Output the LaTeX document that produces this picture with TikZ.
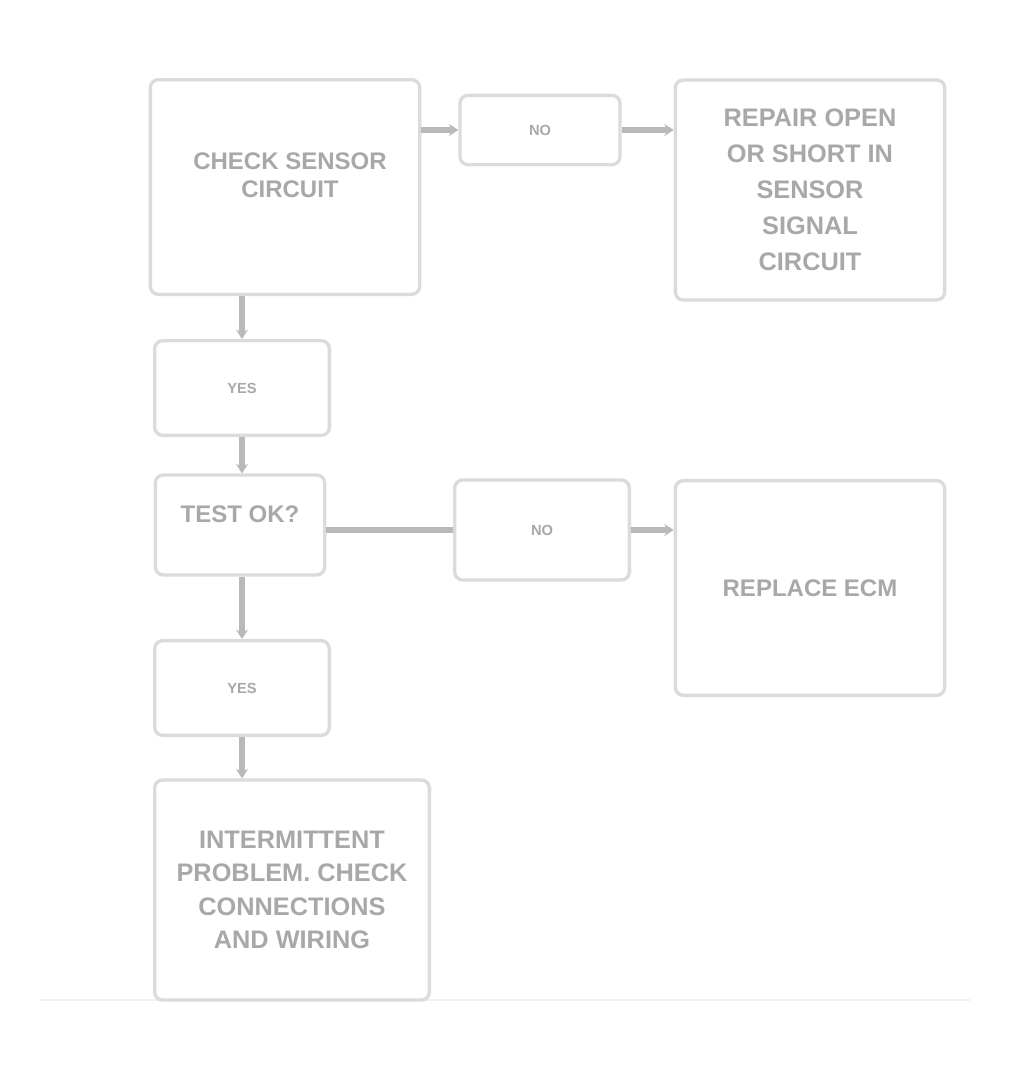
\documentclass[tikz,border=0pt]{standalone}
\usepackage{fontspec}
\setmainfont{Liberation Sans}
\usetikzlibrary{arrows.meta}
\begin{document}
\begin{tikzpicture}[x=0.75pt,y=-0.75pt,
  box/.style={draw=gray!28, line width=2.5pt, rounded corners=6pt, fill=white,
    align=center, font=\bfseries\fontsize{18}{21}\selectfont, text=gray!68, inner sep=0pt},
  ans/.style={box, font=\bfseries\fontsize{11}{13}\selectfont},
  link/.style={draw=gray!55, line width=4pt, -{Stealth[length=7pt,width=9pt]}},
  plain/.style={draw=gray!55, line width=4pt}]
\useasboundingbox (0,0) rectangle (1013,1085);
\fill[white] (0,0) rectangle (1013,1085);
\draw[gray!12, line width=1.5pt] (40,1000) -- (970,1000);
\node[box, minimum width=202pt, minimum height=161pt] (A) at (285,187) {};
\node[box, draw=none, fill=none] (At) at (290,175) {CHECK SENSOR\\CIRCUIT};
\node[ans, minimum width=120pt, minimum height=52pt] (B) at (540,130) {NO};
\node[box, minimum width=202pt, minimum height=165pt, font=\bfseries\fontsize{19}{27}\selectfont] (C) at (810,190) {REPAIR OPEN\\OR SHORT IN\\SENSOR\\SIGNAL\\CIRCUIT};
\node[ans, minimum width=131pt, minimum height=71pt] (D) at (242,388) {YES};
\node[box, minimum width=127pt, minimum height=75pt] (E) at (240,525) {};
\node[box, draw=none, fill=none] (Et) at (240,514) {TEST OK?};
\node[ans, minimum width=131pt, minimum height=75pt] (F) at (542,530) {NO};
\node[box, minimum width=202pt, minimum height=161pt] (G) at (810,588) {REPLACE ECM};
\node[ans, minimum width=131pt, minimum height=71pt] (H) at (242,688) {YES};
\node[box, minimum width=206pt, minimum height=165pt, font=\bfseries\fontsize{19}{25}\selectfont] (I) at (292,890) {INTERMITTENT\\PROBLEM. CHECK\\CONNECTIONS\\AND WIRING};
\draw[link] (A.east |- B.west) -- (B.west);
\draw[link] (B.east) -- (C.west |- B.east);
\draw[link] (A.south -| D.north) -- (D.north);
\draw[link] (D.south) -- (E.north -| D.south);
\draw[plain] (E.east |- F.west) -- (F.west);
\draw[link] (F.east) -- (G.west |- F.east);
\draw[link] (E.south -| H.north) -- (H.north);
\draw[link] (H.south) -- (I.north -| H.south);
\end{tikzpicture}
\end{document}
